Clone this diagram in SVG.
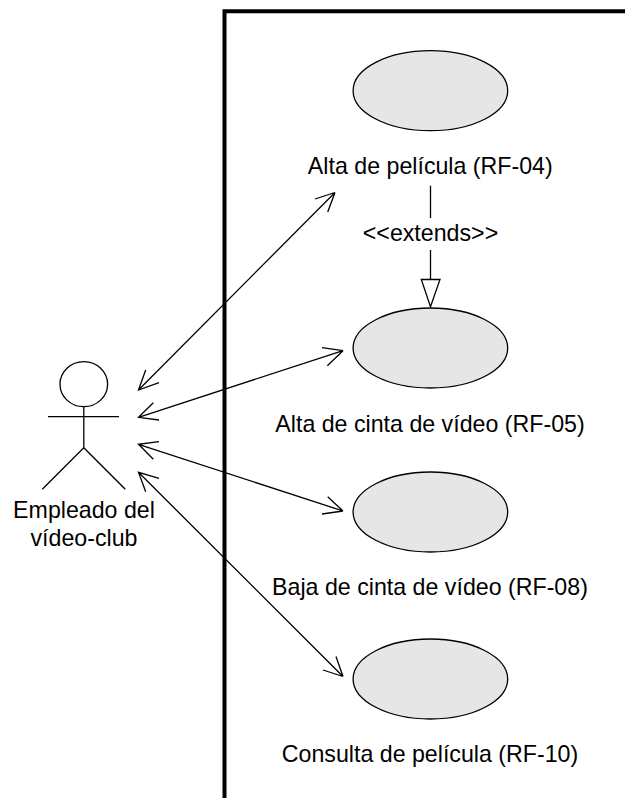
<svg xmlns="http://www.w3.org/2000/svg" width="625" height="798" viewBox="0 0 625 798">
<style>
.uc{fill:#e6e6e6;stroke:#000;stroke-width:1.3}
.ln{fill:none;stroke:#000;stroke-width:1.3}
text{font-family:"Liberation Sans",Arial,sans-serif;font-size:23.2px;fill:#000;text-anchor:middle}
</style>
<rect width="625" height="798" fill="#fff"/>
<g id="boundary"><path d="M224.500 798V11.200H625" fill="none" stroke="#000" stroke-width="4"/></g>
<g id="connectors">
<path class="ln" d="M138.500 390L335 192.500M145.700 370L138.500 390L159 382.700M335 192.500L315 199M335 192.500L327.700 212"/>
<path class="ln" d="M138.500 417.300L343 350.700M153.300 402.700L138.500 417.300L159 420M343 350.700L322 347.700M343 350.700L327.300 365.700"/>
<path class="ln" d="M138.500 444.300L343 511M159 441.700L138.500 444.300L153.300 459.300M343 511L327.700 496.700M343 511L322 514"/>
<path class="ln" d="M138.500 472.300L343 676.500M159 478.300L138.500 472.300L145.700 491.700M343 676.500L336 656.500M343 676.500L323 670"/>
<path class="ln" d="M430.500 185.700V218M430.500 250V279.500"/>
<path d="M421.300 279.500H440L430.500 306.700Z" fill="#fff" stroke="#000" stroke-width="1.300"/>
</g>
<g id="uc-rf04"><ellipse class="uc" cx="430.400" cy="90.700" rx="77.300" ry="40"/><text x="430.300" y="174">Alta de película (RF-04)</text></g>
<g id="extends-label"><text x="430.500" y="241">&lt;&lt;extends&gt;&gt;</text></g>
<g id="uc-rf05"><ellipse class="uc" cx="430.400" cy="348" rx="77.300" ry="40"/><text x="430" y="431.500">Alta de cinta de vídeo (RF-05)</text></g>
<g id="uc-rf08"><ellipse class="uc" cx="430.400" cy="512" rx="77.300" ry="40"/><text x="430" y="595">Baja de cinta de vídeo (RF-08)</text></g>
<g id="uc-rf10"><ellipse class="uc" cx="430.400" cy="679" rx="77.300" ry="40"/><text x="430" y="761.500">Consulta de película (RF-10)</text></g>
<g id="actor">
<ellipse class="ln" cx="83.800" cy="384.200" rx="23.800" ry="22.500"/>
<path class="ln" d="M48 416.700H119M83.800 406.700V447.700L42.300 489.300M83.800 447.700L125.300 489.300"/>
<text x="84" y="518">Empleado del</text>
<text x="84" y="546">vídeo-club</text>
</g>
</svg>
